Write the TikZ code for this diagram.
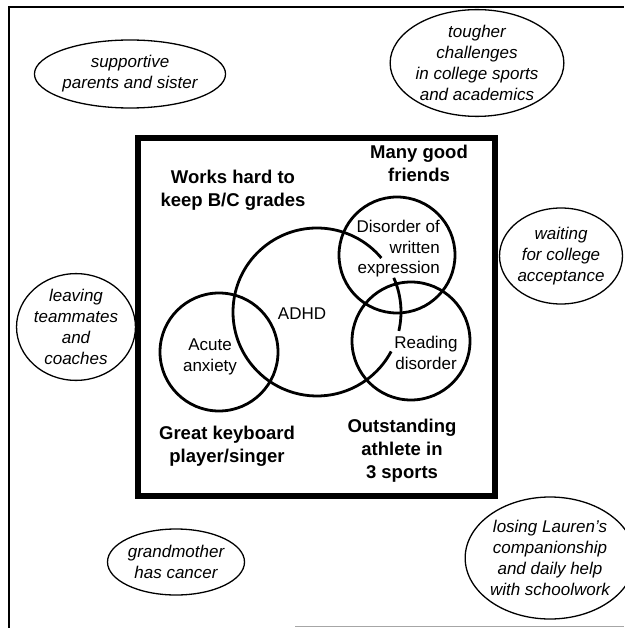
\documentclass[tikz,border=0pt]{standalone}
\usepackage{fontspec}
\setmainfont{Liberation Sans}
\usepackage{tikz}
\usetikzlibrary{shapes.geometric}
\tikzset{
    every node/.style={font=\fontsize{17}{20.5}\selectfont},
    stressor/.style={draw, ellipse, line width=1.3pt, inner sep=0pt, align=center, font=\itshape\fontsize{17}{21}\selectfont},
    strength/.style={align=center, font=\bfseries\fontsize{18.5}{23}\selectfont},
    disorder/.style={line width=2.8pt}
}
\begin{document}
\begin{tikzpicture}[x=1pt, y=-1pt]
        \useasboundingbox (0,0) rectangle (624,628);
        \draw[line width=1.2pt] (9,628) -- (9,7) -- (624,7);
        \draw[line width=1pt, black!35] (295,626) -- (624,626);

        \node[stressor, minimum width=155pt, minimum height=68pt] (family) at (130,74) {supportive\\parents and sister};
        \node[stressor, minimum width=154pt, minimum height=97pt] (college) at (477,63) {tougher\\challenges\\in college sports\\and academics};
        \node[stressor, minimum width=107pt, minimum height=96pt] (waiting) at (561,256) {waiting\\for college\\acceptance};
        \node[stressor, minimum width=115pt, minimum height=97pt] (leaving) at (76,327) {leaving\\teammates\\and\\coaches};
        \node[stressor, minimum width=137pt, minimum height=66pt] (grandma) at (176,562) {grandmother\\has cancer};
        \node[stressor, minimum width=145pt, minimum height=122pt] (lauren) at (550,558) {losing Lauren's\\companionship\\and daily help\\with schoolwork};

        \draw[line width=5.5pt] (138,138) rectangle (495,496);

        \node[strength] (grades) at (233,190) {Works hard to\\keep B/C grades};
        \node[strength] (friends) at (419,163) {Many good\\friends};
        \node[strength] (music) at (227,446) {Great keyboard\\player/singer};
        \node[strength] (athlete) at (402,451) {Outstanding\\athlete in\\3 sports};

        \draw[disorder] (219,352) circle[radius=59];
        \draw[disorder] (397,255) circle[radius=58];
        \draw[disorder] (411,341) circle[radius=59];
        \draw[disorder] (317,312) ++(-40:84) arc[start angle=-40, end angle=-332, radius=84];
        \draw[disorder] (317,312) ++(-24:84) arc[start angle=-24, end angle=13, radius=84];

        \node (adhd) at (302,314) {ADHD};
        \node[align=center] (anxiety) at (210,357) {Acute\\anxiety};
        \node[align=right, anchor=east, inner sep=0pt] (written) at (440,249) {Disorder of\\written\\expression};
        \node[align=center] (reading) at (426,353) {Reading\\disorder};
    \end{tikzpicture}
\end{document}
